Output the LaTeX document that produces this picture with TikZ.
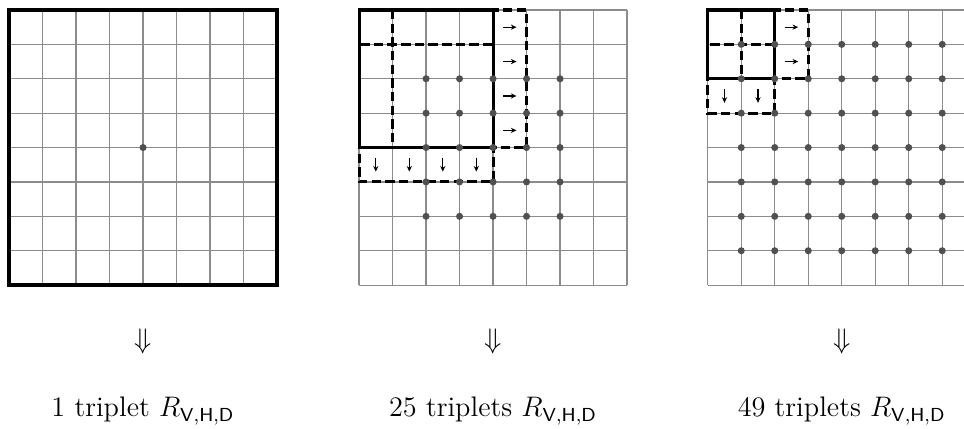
\documentclass[tikz,border=0pt]{standalone}
\definecolor{gridgray}{HTML}{8C8C8C}
\definecolor{dotgray}{HTML}{505050}
\usepackage{tikz}
\usetikzlibrary{arrows.meta, positioning}

\begin{document}
\begin{tikzpicture}[x=0.5cm, y=0.5134cm,
    cell/.style={gridgray, line width=0.5pt},
    window/.style={black, line width=1.3pt},
    shifted/.style={black, line width=1.3pt, dash pattern=on 4pt off 1.8pt},
    slide/.style={-{Stealth[length=2.4pt, width=2.2pt]}, line width=0.5pt},
    triple/.style={circle, fill=dotgray, inner sep=0pt, minimum size=3pt},
    caption/.style={font=\large, anchor=base, inner sep=0pt},
    cells/.pic={
      \foreach \n in {0,...,8} {
        \draw[cell] (\n,0) -- (\n,-8);
        \draw[cell] (0,-\n) -- (8,-\n);
      }
    }
  ]
  \useasboundingbox (0,0) rectangle (28.78,-12.47);
  \clip (0,0) rectangle (28.78,-12.47);

  % window 8x8
  \begin{scope}[shift={(0.27,-0.29)}]
    \pic {cells};
    \draw[black, line width=1.6pt] (0,0) rectangle (8,-8);
    \node[triple] (c1) at (4,-4) {};
  \end{scope}

  % window 4x4
  \begin{scope}[shift={(10.72,-0.29)}]
    \pic {cells};
    \draw[shifted] (1,0) rectangle (5,-4);
    \draw[shifted] (0,-1) rectangle (4,-5);
    \draw[window] (0,0) rectangle (4,-4);
    \foreach \k in {0,...,3} {
      \draw[slide] (4.3,-\k-0.5) -- (4.7,-\k-0.5);
      \draw[slide] (\k+0.5,-4.3) -- (\k+0.5,-4.7);
    }
    \foreach \i in {2,...,6}
      \foreach \j in {2,...,6}
        \node[triple] (c2-\i-\j) at (\i,-\j) {};
  \end{scope}

  % window 2x2
  \begin{scope}[shift={(21.13,-0.29)}]
    \pic {cells};
    \draw[shifted] (1,0) rectangle (3,-2);
    \draw[shifted] (0,-1) rectangle (2,-3);
    \draw[window] (0,0) rectangle (2,-2);
    \foreach \k in {0,1} {
      \draw[slide] (2.3,-\k-0.5) -- (2.7,-\k-0.5);
      \draw[slide] (\k+0.5,-2.3) -- (\k+0.5,-2.7);
    }
    \foreach \i in {1,...,7}
      \foreach \j in {1,...,7}
        \node[triple] (c3-\i-\j) at (\i,-\j) {};
  \end{scope}

  \node[font=\large] (down1) at (4.27,-9.94) {$\Downarrow$};
  \node[font=\large] (down2) at (14.72,-9.94) {$\Downarrow$};
  \node[font=\large] (down3) at (25.13,-9.94) {$\Downarrow$};

  \node[caption] (count1) at (4.27,-12.12) {1 triplet $R_{\mathsf{V,H,D}}$};
  \node[caption] (count2) at (14.72,-12.12) {25 triplets $R_{\mathsf{V,H,D}}$};
  \node[caption] (count3) at (25.13,-12.12) {49 triplets $R_{\mathsf{V,H,D}}$};
\end{tikzpicture}
\end{document}
